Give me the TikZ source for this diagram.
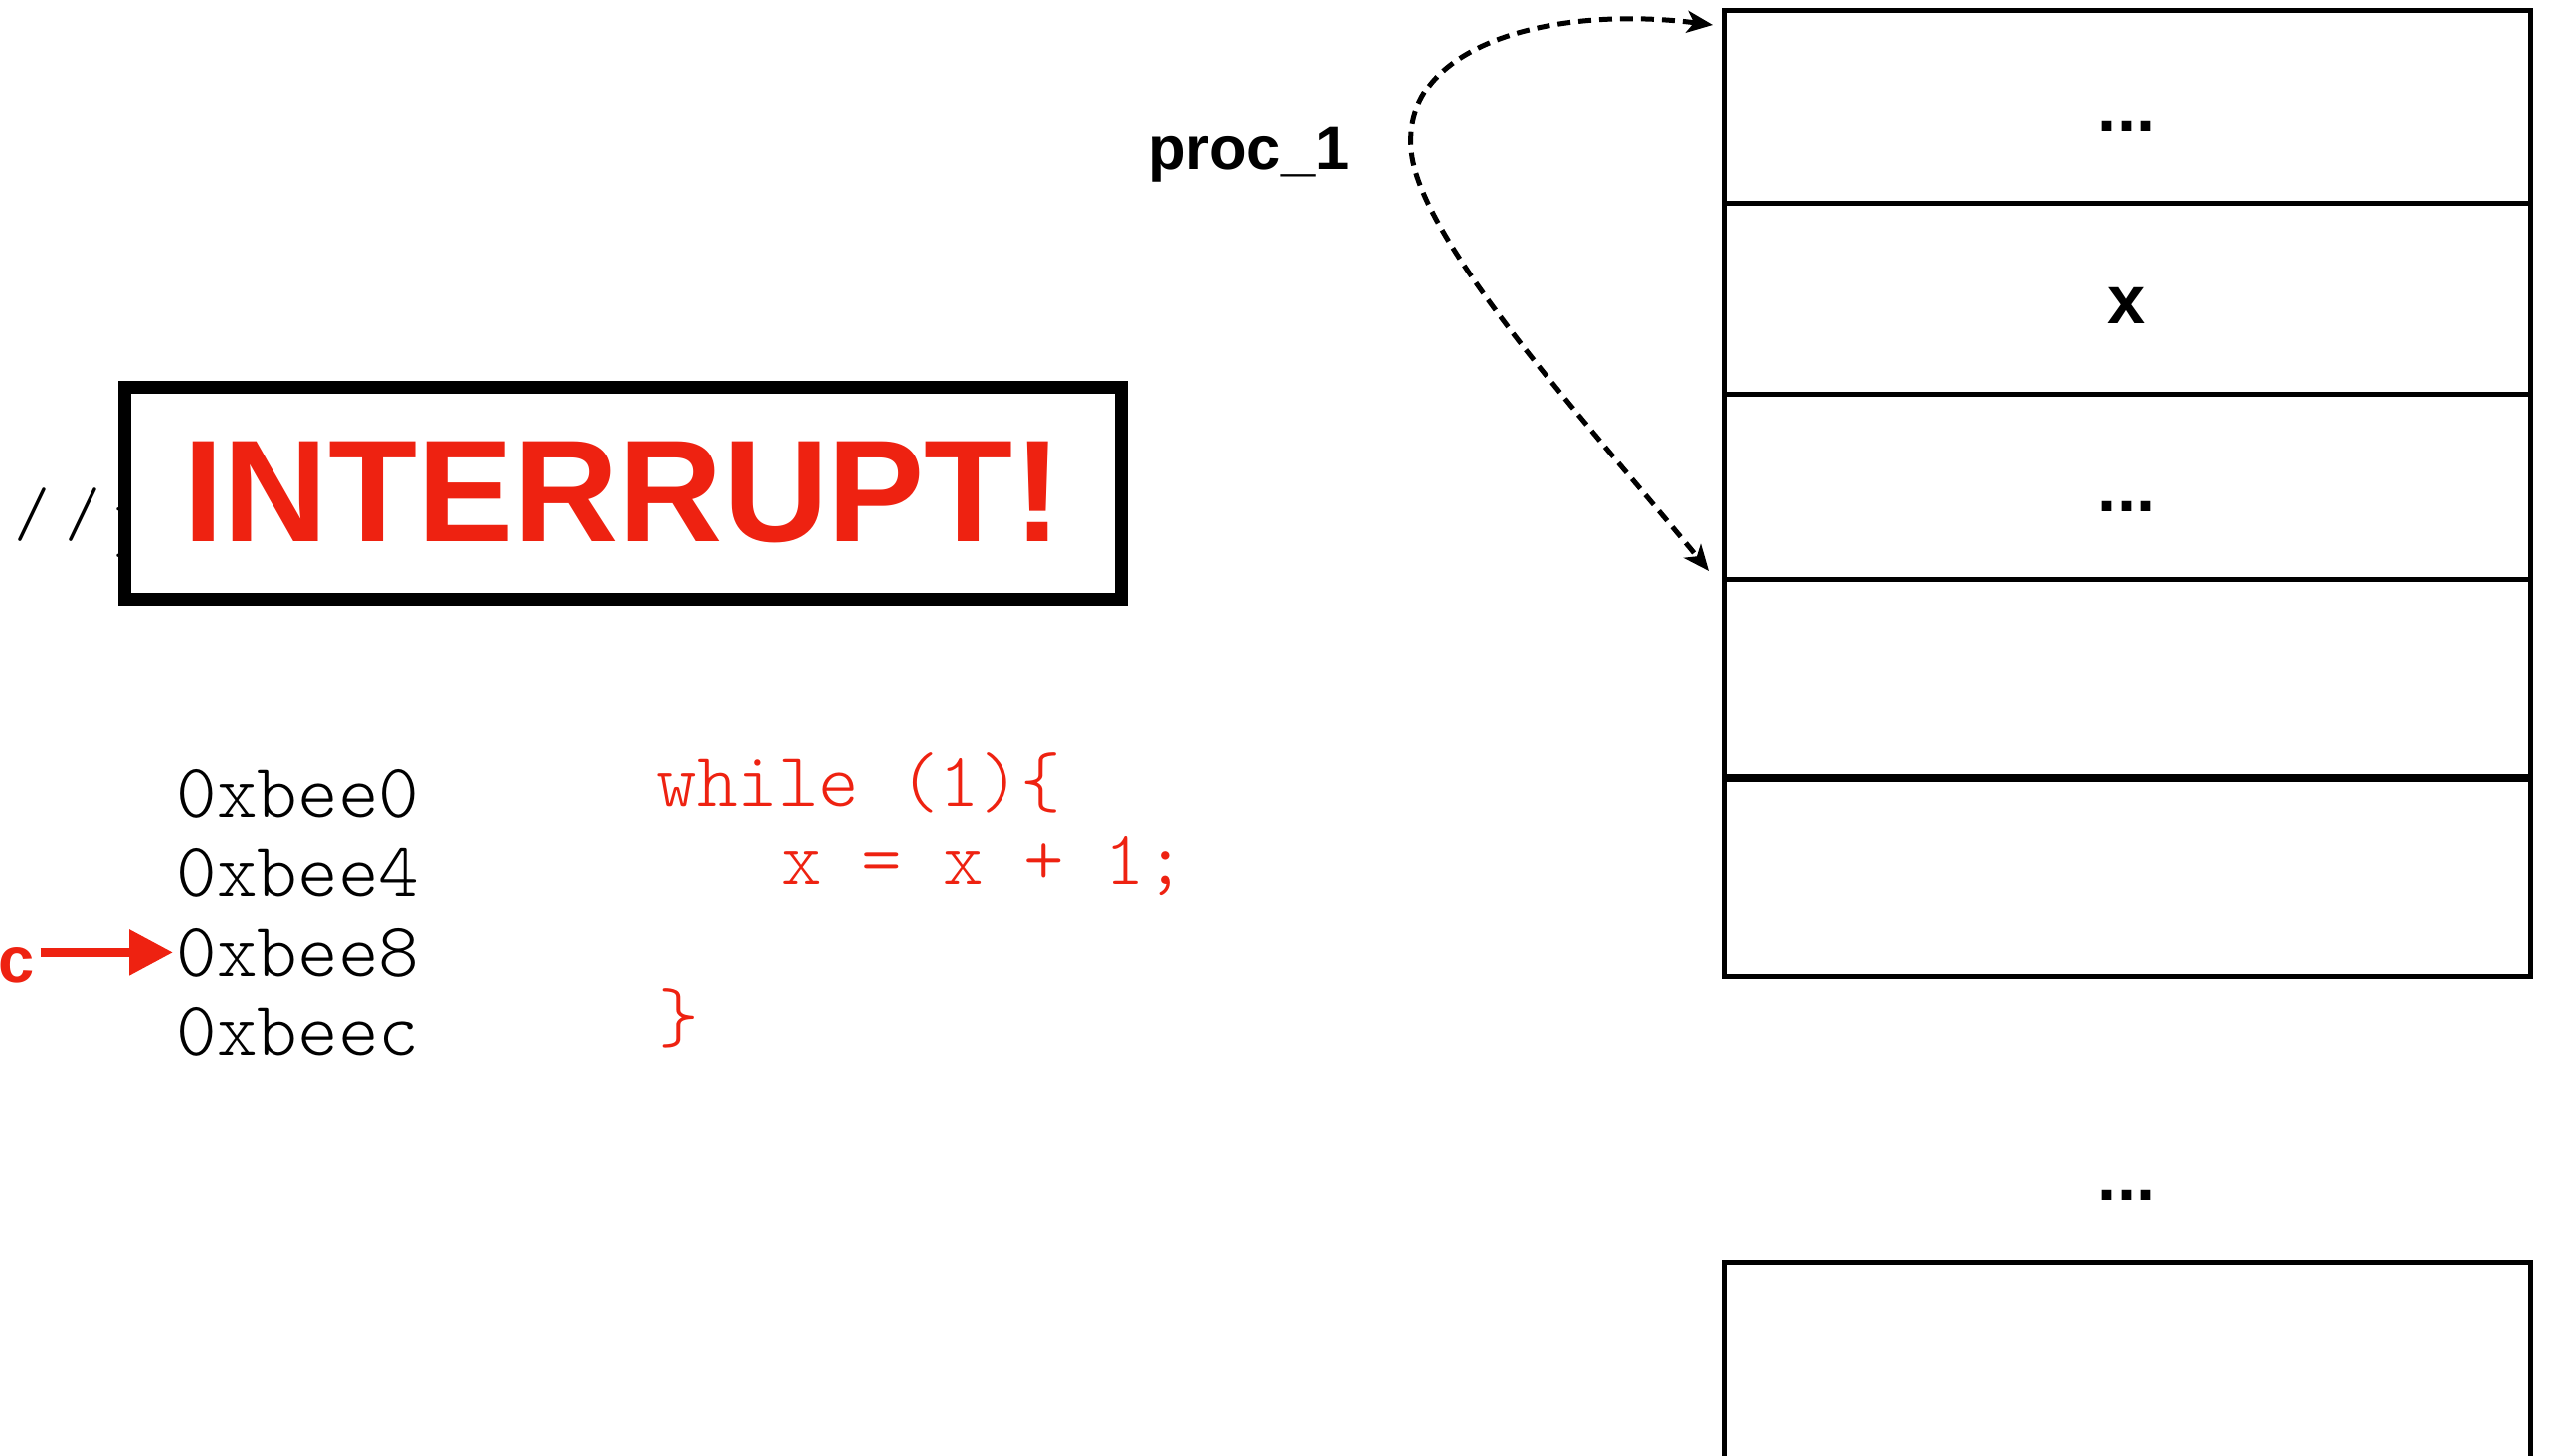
\documentclass[tikz,border=0pt]{standalone}
\usepackage{fontspec}
\setmainfont{Liberation Sans}
\newfontfamily\hel{Liberation Sans}
\IfFontExistsTF{lmmonolt10-regular.otf}
  {\newfontfamily\codefont{lmmonolt10-regular.otf}}
  {\newfontfamily\codefont{Latin Modern Mono}}
\usetikzlibrary{arrows.meta,calc}
\definecolor{alarm}{RGB}{238,34,17}

\tikzset{
  cell/.style={draw, line width=0.05cm, minimum width=8.11cm, inner sep=0pt,
    font=\hel\bfseries\fontsize{19.5}{20}\selectfont, text height=0.5cm, text depth=0pt},
  addr/.style={anchor=base west, inner sep=0pt, font=\codefont\fontsize{22}{24}\selectfont},
  codeline/.style={addr, text=alarm},
  tag/.style={inner sep=0pt, font=\hel\bfseries\fontsize{17.5}{18}\selectfont},
  link/.style={dash pattern=on 0.13cm off 0.08cm, line width=0.05cm,
    >={Stealth[length=0.26cm,width=0.22cm,inset=0.07cm]}, <->},
  pc/.style={draw=alarm, line width=0.09cm, -{Triangle[length=0.44cm,width=0.44cm]}},
  alert/.style={draw, line width=0.13cm, fill=white, inner sep=0pt,
    minimum width=10.02cm, minimum height=2.13cm, text=alarm,
    font=\hel\bfseries\fontsize{41.5}{44}\selectfont},
}

\begin{document}
\begin{tikzpicture}
\useasboundingbox (0,0) rectangle (25.64,-14.63);

% comment line hidden behind the interrupt banner
\node[inner sep=0pt, font=\codefont\fontsize{19.5}{21}\selectfont] (slashes) at (0.58,-5.18) {/\kern0.15cm/};
\node[anchor=base west, inner sep=0pt, font=\codefont\fontsize{23.3}{25}\selectfont] (hidden) at (1.15,-5.60) {E};

% interrupt banner
\node[alert] (banner) at (6.26,-4.955) {INTERRUPT!};

% instruction addresses
\node[addr] (a0) at (1.77,-8.21) {0xbee0};
\node[addr] (a4) at (1.77,-9.01) {0xbee4};
\node[addr] (a8) at (1.77,-9.81) {0xbee8};
\node[addr] (ac) at (1.77,-10.61) {0xbeec};

% program text
\node[codeline] (l1) at (6.60,-8.10) {while (1)\{};
\node[codeline] (l2) at (7.85,-8.89) {x = x + 1;};
\node[codeline] (l3) at (6.62,-10.47) {\}};

% program counter
\node[anchor=base west, inner sep=0pt, text=alarm, font=\hel\bfseries\fontsize{18.5}{20}\selectfont] (c) at (-0.02,-9.87) {c};
\draw[pc, shorten <=0.05cm, shorten >=0.03cm] (c.east |- a8.west) -- (a8.west);

% process memory
\node[cell, minimum height=1.94cm] (r1) at (21.385,-1.07) {...};
\node[cell, minimum height=1.92cm] (r2) at (21.385,-3.00) {x};
\node[cell, minimum height=1.86cm] (r3) at (21.385,-4.89) {...};
\node[cell, minimum height=1.98cm] (r4) at (21.385,-6.81) {};
\node[cell, minimum height=1.98cm] (r5) at (21.385,-8.82) {};
\node[anchor=base, inner sep=0pt, font=\hel\bfseries\fontsize{19.5}{20}\selectfont] (gap) at (21.385,-12.07) {...};
\node[cell, minimum height=2.51cm] (rb) at (21.385,-13.945) {};

% process label and its span
\node[tag, anchor=base west] (proc) at (11.54,-1.70) {proc\_1};
\coordinate (spanTop) at (17.22,-0.25);
\coordinate (spanBot) at (17.18,-5.74);
\draw[link] (spanTop) .. controls (15.6,-0.05) and (14.1,-0.45) .. (14.19,-1.5)
  .. controls (14.25,-2.4) and (16.0,-4.3) .. (spanBot);
\end{tikzpicture}
\end{document}
